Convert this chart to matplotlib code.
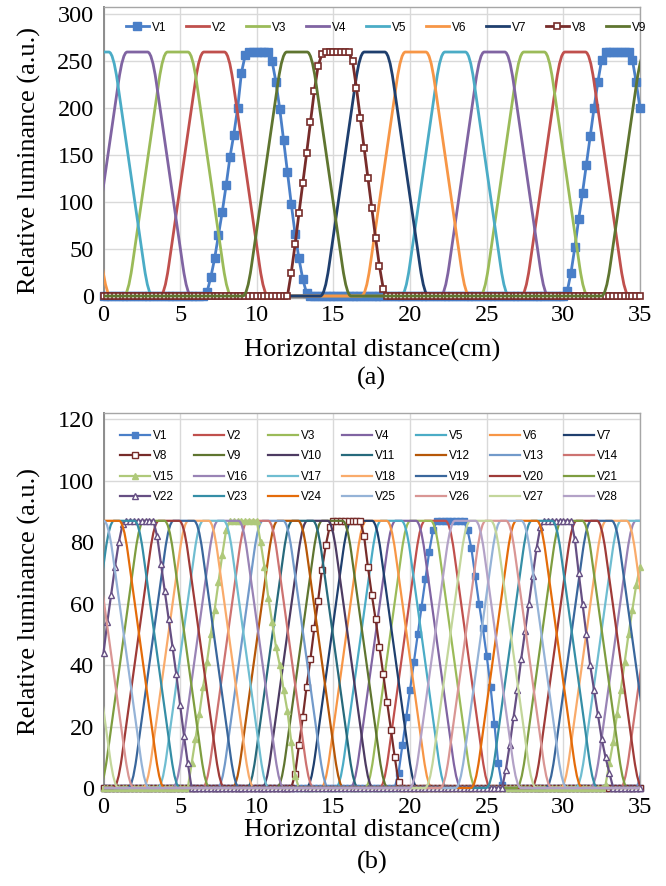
import numpy as np
import matplotlib
matplotlib.use("Agg")
import matplotlib.pyplot as plt
from matplotlib.path import Path
from matplotlib.patches import PathPatch
from matplotlib.lines import Line2D

# ---------------- data ----------------
STEP = 0.25
x_grid = np.arange(0, 35.0 + 1e-9, STEP)          # sampling positions (cm)

# Excel-2010 style series colours
colors = ['#4A7FC8', '#C0504D', '#9BBB59', '#8064A2', '#4BACC6', '#F79646',
          '#1F3F6E', '#772C2A', '#5F7530', '#4D3B62', '#276A7C', '#B65708',
          '#729ACA', '#CD7371', '#AFC97A', '#9983B5', '#6FBDD1', '#F9AB6B',
          '#3A679C', '#9F3B38', '#7E9D40', '#664F83', '#358EA6', '#E46C0A',
          '#95B3D7', '#D99694', '#C3D69B', '#B3A2C7']

# ---- panel (a): 9 views ----
top_labels = ['V%d' % i for i in range(1, 10)]
top_peak = 260
top_half_plateau = 0.95
top_ramp = 2.3
# plateau centres (cm) of every visible peak of the plain-line views
top_centers = {
    'V2': [7.22, 30.77],
    'V3': [4.84, 28.09],
    'V4': [2.21, 25.51],
    'V5': [-0.32, 22.94],
    'V6': [-3.05, 20.36],
    'V7': [17.68],
    'V9': [12.62, 36.02],
}
# marker series: (start x, sampled values) pieces, zero elsewhere
top_V1_pieces = [
    (6.5, [0, 4, 20, 40, 65, 90, 118, 148, 172, 200, 238, 257, 260, 260, 260, 260,
           260, 260, 250, 228, 199, 166, 132, 98, 66, 40, 18, 3]),
    (30.0, [0, 5, 25, 52, 82, 110, 140, 170, 200, 228, 252, 260, 260, 260, 260, 260,
            260, 260, 252, 228, 200]),
]
top_V8_pieces = [
    (12.0, [0, 25, 55, 88, 120, 152, 185, 218, 245, 258, 260, 260, 260, 260, 260, 260,
            260, 250, 222, 190, 158, 126, 94, 62, 32, 8]),
]

# ---- panel (b): 28 views ----
bot_labels = ['V%d' % i for i in range(1, 29)]
bot_peak = 87
bot_half_plateau = 0.95
bot_ramp = 2.4
bot_centers = {
    'V2': [21.64], 'V3': [20.68], 'V4': [19.72], 'V5': [18.77], 'V6': [17.81],
    'V7': [16.86], 'V9': [14.93], 'V10': [13.96], 'V11': [12.99], 'V12': [12.03],
    'V13': [11.06, 38.30], 'V14': [10.08, 37.34], 'V16': [8.14, 35.40],
    'V17': [7.17, 34.43], 'V18': [6.20, 33.46], 'V19': [5.23, 32.49],
    'V20': [4.27, 31.53], 'V21': [3.31, 30.57], 'V23': [1.35, 28.60],
    'V24': [0.35, 27.60], 'V25': [-0.65, 26.60], 'V26': [-1.65, 25.60],
    'V27': [-2.65, 24.60], 'V28': [-3.65, 23.60],
}
bot_V1_pieces = [
    (19.0, [0, 5, 14, 23, 32, 41, 50, 59, 68, 77, 84, 87, 87, 87, 87, 87, 87, 87, 87,
            84, 78, 69, 60, 52, 43, 33, 21, 8, 1]),
]
bot_V8_pieces = [
    (12.25, [0, 4.5, 14, 23, 33, 42, 52, 61, 71, 79, 85, 87, 87, 87, 87, 87, 87, 87, 87,
             82, 72, 63, 55, 46, 37, 28, 19, 10, 2]),
]
bot_V15_pieces = [
    (5.5, [0, 8, 16, 24, 33, 41, 50, 58, 67, 76, 84, 87, 87, 87, 87, 87, 87, 87, 87,
           80, 72, 62, 54, 46, 40, 32, 25, 15, 4]),
    (32.75, [1, 8, 15, 24, 32, 41, 50, 58, 66, 72]),
]
bot_V22_pieces = [
    (0.0, [44, 54, 63, 72, 80, 86, 87, 87, 87, 87, 87, 87, 87, 87,
           82, 73, 64, 55, 46, 37, 27, 17, 8]),
    (26.0, [0, 6, 14, 23, 32, 42, 51, 60, 69, 78, 85, 87, 87, 87, 87, 87, 87, 87, 87,
            81, 70, 60, 50, 40, 32, 24, 16, 10, 5]),
]


def sampled(pieces):
    y = np.zeros(len(x_grid))
    for start, vals in pieces:
        i = int(round(start / STEP))
        y[i:i + len(vals)] = vals
    return y


def trapezoids(centers, peak, h, r):
    xs, ys = [-10.0], [0.0]
    for c in sorted(centers):
        xs += [c - h - r, c - h, c + h, c + h + r]
        ys += [0, peak, peak, 0]
    xs.append(45.0)
    ys.append(0.0)
    return xs, ys


def smooth_path(xs, ys, round_dx=0.28):
    """Polyline with its corners rounded by quadratic Bezier curves (Excel 'smoothed line')."""
    P = np.column_stack([xs, ys]).astype(float)
    verts = [P[0]]
    codes = [Path.MOVETO]
    for i in range(1, len(P) - 1):
        a, b, c = P[i - 1], P[i], P[i + 1]
        t1 = min(0.5, round_dx / max(abs(b[0] - a[0]), 1e-9))
        t2 = min(0.5, round_dx / max(abs(c[0] - b[0]), 1e-9))
        verts += [b + t1 * (a - b), b, b + t2 * (c - b)]
        codes += [Path.LINETO, Path.CURVE3, Path.CURVE3]
    verts.append(P[-1])
    codes.append(Path.LINETO)
    return Path(np.array(verts), codes)


# ---------------- figure ----------------
W, H = 666, 886
fig = plt.figure(figsize=(W / 100, H / 100), dpi=100)
SERIF = ['Liberation Serif', 'DejaVu Serif']
SANS = ['Liberation Sans', 'DejaVu Sans']


def px_axes(l, r, t, b):
    return fig.add_axes([l / W, 1 - b / H, (r - l) / W, (b - t) / H])


def style_axes(ax, ymax, ystep):
    ax.set_xlim(0, 35)
    ax.set_xticks(np.arange(0, 36, 5))
    ax.set_yticks(np.arange(0, ymax + 1, ystep))
    ax.grid(True, color='#D9D9D9', lw=1.0)
    ax.set_axisbelow(True)
    for s in ['top', 'right', 'bottom']:
        ax.spines[s].set_color('#A6A6A6')
        ax.spines[s].set_linewidth(1.0)
    ax.spines['left'].set_color('#8C8C8C')
    ax.spines['left'].set_linewidth(1.4)
    ax.tick_params(length=0, labelsize=17.5, pad=5)
    ax.tick_params(axis='y', pad=7)
    for lab in ax.get_xticklabels() + ax.get_yticklabels():
        lab.set_family(SERIF)


def plain_series(ax, centers, peak, h, r, col, lw):
    xs, ys = trapezoids(centers, peak, h, r)
    patch = PathPatch(smooth_path(xs, ys), fill=False, edgecolor=col, lw=lw,
                      joinstyle='round', capstyle='round', zorder=3)
    ax.add_patch(patch)
    return Line2D([], [], color=col, lw=lw)


# ---- panel (a) ----
ax1 = px_axes(103.5, 640, 6.5, 298)
style_axes(ax1, 300, 50)
ax1.set_ylim(-2.1, 308.5)
handles1 = []
for i, lab in enumerate(top_labels):
    col = colors[i]
    if lab == 'V1':
        ln, = ax1.plot(x_grid, sampled(top_V1_pieces), color=col, lw=2.0, marker='s',
                       ms=5.2, mfc=col, mec=col, clip_on=False, zorder=3)
    elif lab == 'V8':
        ln, = ax1.plot(x_grid, sampled(top_V8_pieces), color=col, lw=2.0, marker='s',
                       ms=5.0, mfc='white', mec=col, mew=1.2, clip_on=False, zorder=3)
    else:
        ln = plain_series(ax1, top_centers[lab], top_peak, top_half_plateau, top_ramp,
                          col, 2.0)
    handles1.append(ln)
leg1 = ax1.legend(handles1, top_labels, ncol=9, loc='upper left',
                  bbox_to_anchor=(0.0414, 0.9485), frameon=False, borderpad=0,
                  borderaxespad=0, handlelength=1.95, handletextpad=0.28,
                  columnspacing=1.63, numpoints=1,
                  prop={'family': SANS, 'size': 8.5})
ax1.set_ylabel('Relative luminance (a.u.)', family=SERIF, fontsize=19)
ax1.yaxis.set_label_coords(-0.117, 0.47)
fig.text(371.75 / W, 1 - 350 / H, 'Horizontal distance(cm)', family=SERIF,
         fontsize=19, ha='center', va='center')
fig.text(371.75 / W, 1 - 378 / H, '(a)', family=SERIF, fontsize=19,
         ha='center', va='center')

# ---- panel (b) ----
ax2 = px_axes(103.5, 640, 413, 790)
style_axes(ax2, 120, 20)
ax2.set_ylim(-0.65, 122.1)
handles2 = []
marker_specs = {
    'V1': (bot_V1_pieces, dict(marker='s', ms=4.5, mfc=colors[0], mec=colors[0])),
    'V8': (bot_V8_pieces, dict(marker='s', ms=4.5, mfc='white', mec=colors[7], mew=1.0)),
    'V15': (bot_V15_pieces, dict(marker='^', ms=5.0, mfc=colors[14], mec=colors[14])),
    'V22': (bot_V22_pieces, dict(marker='^', ms=5.0, mfc='white', mec=colors[21], mew=1.0)),
}
for i, lab in enumerate(bot_labels):
    col = colors[i]
    if lab in marker_specs:
        pieces, mk = marker_specs[lab]
        ln, = ax2.plot(x_grid, sampled(pieces), color=col, lw=1.6, clip_on=False,
                       zorder=3, **mk)
    else:
        ln = plain_series(ax2, bot_centers[lab], bot_peak, bot_half_plateau, bot_ramp,
                          col, 1.6)
    handles2.append(ln)
order = [r * 7 + c for c in range(7) for r in range(4)]
leg2 = ax2.legend([handles2[k] for k in order], [bot_labels[k] for k in order],
                  ncol=7, loc='upper left', bbox_to_anchor=(0.0308, 0.955),
                  frameon=False, borderpad=0, borderaxespad=0, handlelength=2.54,
                  handletextpad=0.28, columnspacing=1.66, labelspacing=0.72,
                  numpoints=1, prop={'family': SANS, 'size': 8.5})
ax2.set_ylabel('Relative luminance (a.u.)', family=SERIF, fontsize=19)
ax2.yaxis.set_label_coords(-0.117, 0.50)
fig.text(371.75 / W, 1 - 830 / H, 'Horizontal distance(cm)', family=SERIF,
         fontsize=19, ha='center', va='center')
fig.text(371.75 / W, 1 - 862 / H, '(b)', family=SERIF, fontsize=19,
         ha='center', va='center')

fig.savefig('out.png', dpi=100)
